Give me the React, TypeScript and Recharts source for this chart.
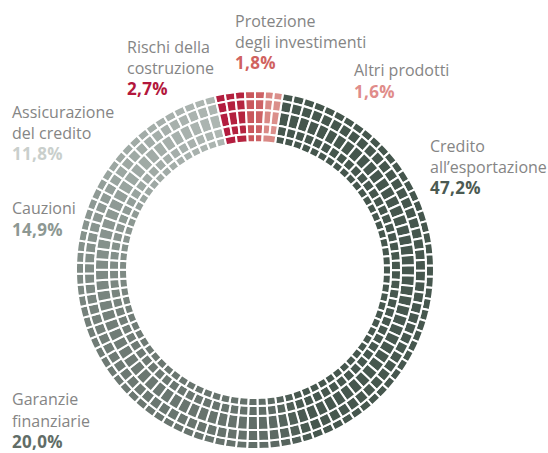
import React from "react";
import { PieChart, Pie, Cell } from "recharts";

// ---- data ----
const categories = [
  "Credito all’esportazione",
  "Garanzie finanziarie",
  "Cauzioni",
  "Assicurazione del credito",
  "Rischi della costruzione",
  "Protezione degli investimenti",
  "Altri prodotti",
];
const shares = [47.2, 20.0, 14.9, 11.8, 2.7, 1.8, 1.6];
const shareLabels = ["47,2%", "20,0%", "14,9%", "11,8%", "2,7%", "1,8%", "1,6%"];
const labelLines: string[][] = [
  ["Credito", "all’esportazione"],
  ["Garanzie", "finanziarie"],
  ["Cauzioni"],
  ["Assicurazione", "del credito"],
  ["Rischi della", "costruzione"],
  ["Protezione", "degli investimenti"],
  ["Altri prodotti"],
];

// ---- styling ----
const greyStops: [number, string][] = [
  [0, "#45564d"],
  [0.42, "#46574e"],
  [0.46, "#5e6b65"],
  [0.5, "#66726c"],
  [0.6, "#6b7771"],
  [0.67, "#717d77"],
  [0.72, "#7e8a84"],
  [0.8, "#909b96"],
  [0.82, "#9ba6a1"],
  [0.9, "#a8b1ad"],
  [0.94, "#aeb7b2"],
];
const redStart = ["#b31d3f", "#c9575c", "#d98985"];
const redEnd = ["#b5243f", "#cd6265", "#db8f8b"];
const pctColors = ["#4b5a52", "#616d67", "#8d9893", "#c9cfcc", "#b3173c", "#d0625f", "#e08c8a"];
const labelPos = [
  { x: 430, y: 152, lh: 21 },
  { x: 12, y: 405, lh: 21.5 },
  { x: 12, y: 214, lh: 22 },
  { x: 12, y: 118, lh: 21 },
  { x: 127, y: 53, lh: 21 },
  { x: 235, y: 27, lh: 21 },
  { x: 354, y: 76, lh: 22 },
];
const RINGS = [
  { inner: 171, outer: 179, blocks: 100 },
  { inner: 160, outer: 171, blocks: 98 },
  { inner: 146, outer: 160, blocks: 96 },
  { inner: 136, outer: 146, blocks: 94 },
  { inner: 128, outer: 136, blocks: 92 },
];
const CX = 255;
const CY = 270;
const START = 81;

function hexToRgb(h: string) {
  const n = parseInt(h.slice(1), 16);
  return [(n >> 16) & 255, (n >> 8) & 255, n & 255];
}
function mix(a: string, b: string, t: number) {
  const A = hexToRgb(a);
  const B = hexToRgb(b);
  const c = A.map((v, i) => Math.round(v + (B[i] - v) * t));
  return "rgb(" + c.join(",") + ")";
}
function greyAt(f: number) {
  for (let i = 0; i < greyStops.length - 1; i++) {
    const [f0, c0] = greyStops[i];
    const [f1, c1] = greyStops[i + 1];
    if (f <= f1) return mix(c0, c1, Math.max(0, (f - f0) / (f1 - f0)));
  }
  const last = greyStops[greyStops.length - 1][1];
  return mix(last, last, 0);
}

function buildRing(totalBlocks: number) {
  const out: { name: string; value: number; fill: string }[] = [];
  let acc = 0;
  shares.forEach((s, ci) => {
    const n = Math.max(1, Math.round((s / 100) * totalBlocks));
    for (let j = 0; j < n; j++) {
      const mid = (acc + (s / n) * (j + 0.5)) / 100;
      const t = n > 1 ? j / (n - 1) : 0;
      const fill = ci < 4 ? greyAt(mid) : mix(redStart[ci - 4], redEnd[ci - 4], t);
      out.push({ name: categories[ci], value: s / n, fill });
    }
    acc += s;
  });
  return out;
}

const ringData = RINGS.map((r) => buildRing(r.blocks));

export default function App() {
  const font = "'Open Sans', 'Noto Sans', sans-serif";
  return (
    <div style={{ position: "absolute", left: 0, top: 0, width: 548, height: 453, background: "#fff" }}>
      <PieChart width={548} height={453} margin={{ top: 0, right: 0, bottom: 0, left: 0 }}>
        {RINGS.map((r, i) => (
          <Pie
            key={i}
            data={ringData[i]}
            dataKey="value"
            nameKey="name"
            cx={CX}
            cy={CY}
            innerRadius={r.inner}
            outerRadius={r.outer}
            startAngle={START}
            endAngle={START - 360}
            paddingAngle={0}
            stroke="#ffffff"
            strokeWidth={2}
            isAnimationActive={false}
          >
            {ringData[i].map((d, j) => (
              <Cell key={j} fill={d.fill} stroke="#ffffff" strokeWidth={2} />
            ))}
          </Pie>
        ))}
      </PieChart>
      <svg width={548} height={453} style={{ position: "absolute", left: 0, top: 0, pointerEvents: "none" }}>
        {labelLines.map((lines, i) => (
          <g key={i}>
            {lines.map((ln, k) => (
              <text key={k} x={labelPos[i].x} y={labelPos[i].y + k * labelPos[i].lh} fontFamily={font} fontSize={16} fill="#858585">
                {ln}
              </text>
            ))}
            <text
              x={labelPos[i].x}
              y={labelPos[i].y + lines.length * labelPos[i].lh}
              fontFamily={font}
              fontSize={17}
              fontWeight={700}
              letterSpacing={0.3}
              fill={pctColors[i]}
            >
              {shareLabels[i]}
            </text>
          </g>
        ))}
      </svg>
    </div>
  );
}
